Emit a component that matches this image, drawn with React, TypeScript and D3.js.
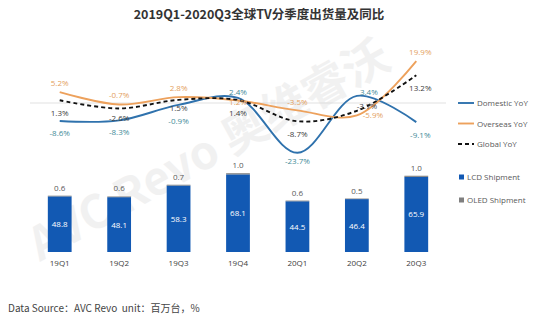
import * as d3 from "d3";

const categories = ["19Q1", "19Q2", "19Q3", "19Q4", "20Q1", "20Q2", "20Q3"];
const lcdShipment = [48.8, 48.1, 58.3, 68.1, 44.5, 46.4, 65.9];
const oledShipment = [0.6, 0.6, 0.7, 1.0, 0.6, 0.5, 1.0];
const domesticYoY = [-8.6, -8.3, -0.9, 2.4, -23.7, 3.4, -9.1];
const overseasYoY = [5.2, -0.7, 2.8, 1.2, -3.5, -5.9, 19.9];
const globalYoY = [1.3, -2.6, 1.5, 1.4, -8.7, -3.7, 13.2];

const W = 553;
const H = 331;
const FONT = "'Open Sans', 'Noto Sans CJK SC', sans-serif";

const BLUE_BAR = "#1259b3";
const OLED = "#7f7f7f";
const DOM = "#2f72ad";
const OVS = "#eda15c";
const DOM_TXT = "#3f8b98";
const OVS_TXT = "#e3a05e";
const GLB_TXT = "#404040";

// label offsets (dx, dy) relative to each point
const domOff = [[0, 12], [0, 12], [0, 16], [0, -6], [0, 8], [12, -4], [4, 13]];
const ovsOff = [[0, -9], [0, -9], [0, -9], [0, 2], [0, -8], [16, 0], [4, -9]];
const glbOff = [[0, 13], [0, 10], [0, 8], [0, 13], [0, 13], [10, -5], [4, 13]];

export default function App() {
  const x = d3.scalePoint<string>().domain(categories).range([30, 446]).padding(0.5);
  const step = x.step();
  const barW = step * 0.4;
  const yBar = d3.scaleLinear().domain([0, 100]).range([252, 138]);
  const yLine = d3.scaleLinear().domain([-25, 25]).range([155.5, 50.5]);

  const line = d3
    .line<number>()
    .x((_, i) => x(categories[i])!)
    .y((d) => yLine(d))
    .curve(d3.curveCatmullRom.alpha(0.5));

  const fmt = (v: number) => `${v.toFixed(1)}%`;

  const series = [
    { name: "Domestic YoY", vals: domesticYoY, color: DOM, dash: "", txt: DOM_TXT, off: domOff, w: 1.9 },
    { name: "Overseas YoY", vals: overseasYoY, color: OVS, dash: "", txt: OVS_TXT, off: ovsOff, w: 1.9 },
    { name: "Global YoY", vals: globalYoY, color: "#111", dash: "4,3", txt: GLB_TXT, off: glbOff, w: 1.9 },
  ];

  return (
    <svg width={W} height={H} style={{ position: "absolute", left: 0, top: 0, fontFamily: FONT }}>
      <rect width={W} height={H} fill="#fff" />
      <text x={259} y={19} textAnchor="middle" fontSize={12.5} fontWeight="bold" fill="#333"
        fontFamily="'Noto Sans CJK SC', sans-serif">
        2019Q1-2020Q3全球TV分季度出货量及同比
      </text>

      {/* watermark */}
      <text x={40} y={262} transform="rotate(-29 40 262)" fontSize={46} fontWeight="bold"
        fill="#d9d9d9" opacity={0.35} fontFamily="'Noto Sans CJK SC', sans-serif">
        AVC Revo 奥维睿沃
      </text>

      {/* zero line */}
      <line x1={30} x2={446} y1={yLine(0)} y2={yLine(0)} stroke="#d9d9d9" strokeWidth={0.8} />

      {/* bars */}
      {categories.map((c, i) => {
        const cx = x(c)!;
        const yTop = yBar(lcdShipment[i]);
        const yO = yBar(lcdShipment[i] + oledShipment[i]);
        return (
          <g key={c}>
            <rect x={cx - barW / 2} y={yTop} width={barW} height={yBar(0) - yTop} fill={BLUE_BAR} />
            <rect x={cx - barW / 2} y={yO} width={barW} height={yTop - yO} fill={OLED} />
            <text x={cx} y={(yTop + yBar(0)) / 2 + 3} textAnchor="middle" fontSize={8} fill="#fff">
              {lcdShipment[i].toFixed(1)}
            </text>
            <text x={cx} y={yO - 5} textAnchor="middle" fontSize={8} fill="#595959">
              {oledShipment[i].toFixed(1)}
            </text>
            <text x={cx} y={266} textAnchor="middle" fontSize={8} fill="#404040">
              {c}
            </text>
          </g>
        );
      })}

      {/* lines */}
      {series.map((s) => (
        <path key={s.name} d={line(s.vals)!} fill="none" stroke={s.color}
          strokeWidth={s.w} strokeDasharray={s.dash || undefined} />
      ))}
      {series.map((s) =>
        s.vals.map((v, i) => (
          <text key={s.name + i} x={x(categories[i])! + s.off[i][0]} y={yLine(v) + s.off[i][1] + 3}
            textAnchor="middle" fontSize={8} fill={s.txt}>
            {fmt(v)}
          </text>
        ))
      )}

      {/* legend */}
      {series.map((s, i) => {
        const ly = 103 + i * 20.5;
        return (
          <g key={"lg" + s.name}>
            <line x1={458} x2={474} y1={ly} y2={ly} stroke={s.color} strokeWidth={s.w}
              strokeDasharray={s.dash || undefined} />
            <text x={477} y={ly + 3} fontSize={8} fill="#595959">{s.name}</text>
          </g>
        );
      })}
      {[
        { name: "LCD Shipment", color: BLUE_BAR, y: 177 },
        { name: "OLED Shipment", color: OLED, y: 200 },
      ].map((l) => (
        <g key={l.name}>
          <rect x={459} y={l.y - 2.5} width={5} height={5} fill={l.color} />
          <text x={467} y={l.y + 3} fontSize={8} fill="#595959">{l.name}</text>
        </g>
      ))}

      <text x={8} y={312} fontSize={10} fill="#444" fontFamily="'Noto Sans CJK SC', sans-serif"
        style={{ whiteSpace: "pre" }}>
        {"Data Source：AVC Revo  unit：百万台，%"}
      </text>
    </svg>
  );
}
